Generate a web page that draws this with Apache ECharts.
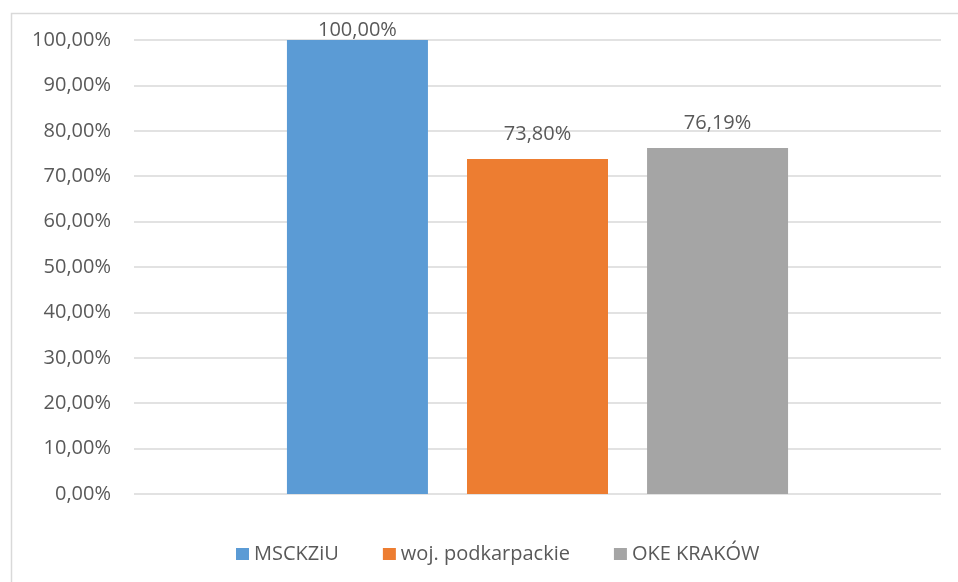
<!DOCTYPE html>
<html>
<head>
<meta charset="utf-8">
<script src="https://cdn.jsdelivr.net/npm/echarts@6/dist/echarts.min.js"></script>
<style>html,body{margin:0;padding:0;background:#fff;}#c{width:958px;height:582px;}</style>
</head>
<body>
<div id="c"></div>
<script>
var categories = [''];
var seriesNames = ['MSCKZiU', 'woj. podkarpackie', 'OKE KRAKÓW'];
var seriesValues = [100.00, 73.80, 76.19];
var colors = ['#5B9BD5', '#ED7D31', '#A5A5A5'];
var labelDistances = [0, 15, 15];

function fmt(v) { return v.toFixed(2).replace('.', ',') + '%'; }
var FONT = 'Open Sans';
var chart = echarts.init(document.getElementById('c'), null, {renderer: 'canvas'});
var series = seriesNames.map(function (n, i) {
  return {
    name: n,
    type: 'bar',
    data: [seriesValues[i]],
    barWidth: 141,
    barGap: '27.7%',
    itemStyle: {color: colors[i]},
    label: {
      show: true, position: 'top', distance: labelDistances[i],
      color: '#595959', fontFamily: FONT, fontSize: 20,
      formatter: function (p) { return fmt(p.value); }
    }
  };
});
chart.setOption({
  animation: false,
  graphic: [{type: 'rect', left: 9, top: 11, shape: {width: 1000, height: 1000},
    style: {fill: 'none', stroke: '#d9d9d9', lineWidth: 1.5}, silent: true, z: -1}],
  grid: {left: 134, right: 17, top: 40, bottom: 88, containLabel: false},
  legend: {
    data: seriesNames, left: 231, top: 539, icon: 'rect', itemWidth: 13, itemHeight: 12,
    itemGap: 44, textStyle: {color: '#595959', fontFamily: FONT, fontSize: 20}
  },
  xAxis: {type: 'category', data: categories, axisLine: {show: false}, axisTick: {show: false}, axisLabel: {show: false}},
  yAxis: {
    type: 'value', min: 0, max: 100, interval: 10,
    axisLine: {show: false}, axisTick: {show: false},
    axisLabel: {margin: 23, color: '#595959', fontFamily: FONT, fontSize: 20, formatter: fmt},
    splitLine: {lineStyle: {color: '#d9d9d9', width: 1.5}}
  },
  series: series
});
</script>
</body>
</html>
